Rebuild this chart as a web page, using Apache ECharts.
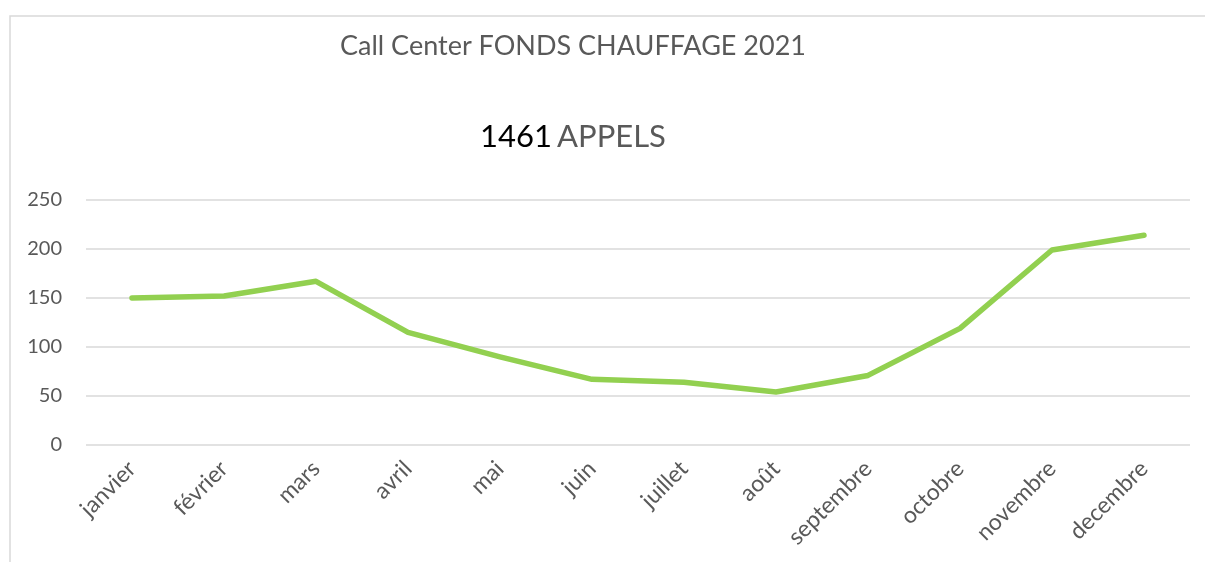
<!DOCTYPE html>
<html>
<head>
<meta charset="utf-8">
<script src="https://cdn.jsdelivr.net/npm/echarts@6/dist/echarts.min.js"></script>
<style>
  html, body { margin: 0; padding: 0; background: #fff; }
  #chart { width: 1205px; height: 562px; }
</style>
</head>
<body>
<div id="chart"></div>
<script>
// données
const mois = ['janvier', 'février', 'mars', 'avril', 'mai', 'juin', 'juillet', 'août', 'septembre', 'octobre', 'novembre', 'decembre'];
const appels = [150, 152, 167, 115, 90, 67, 64, 54, 71, 119, 199, 214];
const totalAppels = 1461;

const chart = echarts.init(document.getElementById('chart'));
const police = 'Lato, "Open Sans", sans-serif';

chart.setOption({
    animation: false,
    backgroundColor: '#fff',
    graphic: [{
        type: 'polyline',
        shape: { points: [[10, 562], [10, 16], [1205, 16]] },
        style: { stroke: '#d9d9d9', lineWidth: 1.5, fill: null }
    }],
    title: [{
        text: 'Call Center FONDS CHAUFFAGE 2021',
        left: 568, top: 28, textAlign: 'center',
        textStyle: { fontFamily: police, fontWeight: 'normal', fontSize: 27, color: '#595959' }
    }, {
        text: '{a|' + totalAppels + '} {b|APPELS}',
        left: 568, top: 116, textAlign: 'center',
        textStyle: {
            fontWeight: 'normal',
            rich: {
                a: { fontFamily: police, fontSize: 31, fontWeight: 'normal', color: '#000' },
                b: { fontFamily: police, fontSize: 31, fontWeight: 'normal', color: '#595959' }
            }
        }
    }],
    grid: { left: 86, right: 15, top: 200, bottom: 117 },
    xAxis: {
        type: 'category',
        data: mois,
        boundaryGap: true,
        axisLine: { show: false },
        axisTick: { show: false },
        axisLabel: { rotate: 45, color: '#595959', fontFamily: police, fontSize: 23, margin: 20, interval: 0 }
    },
    yAxis: {
        type: 'value',
        min: 0, max: 250, interval: 50,
        axisLine: { show: false },
        axisTick: { show: false },
        axisLabel: { color: '#595959', fontFamily: police, fontSize: 20, margin: 24 },
        splitLine: { lineStyle: { color: '#d9d9d9', width: 1.5 } }
    },
    series: [{
        type: 'line',
        data: appels,
        symbol: 'none',
        lineStyle: { color: '#92D050', width: 5.5, cap: 'round', join: 'round' }
    }]
});
</script>
</body>
</html>
